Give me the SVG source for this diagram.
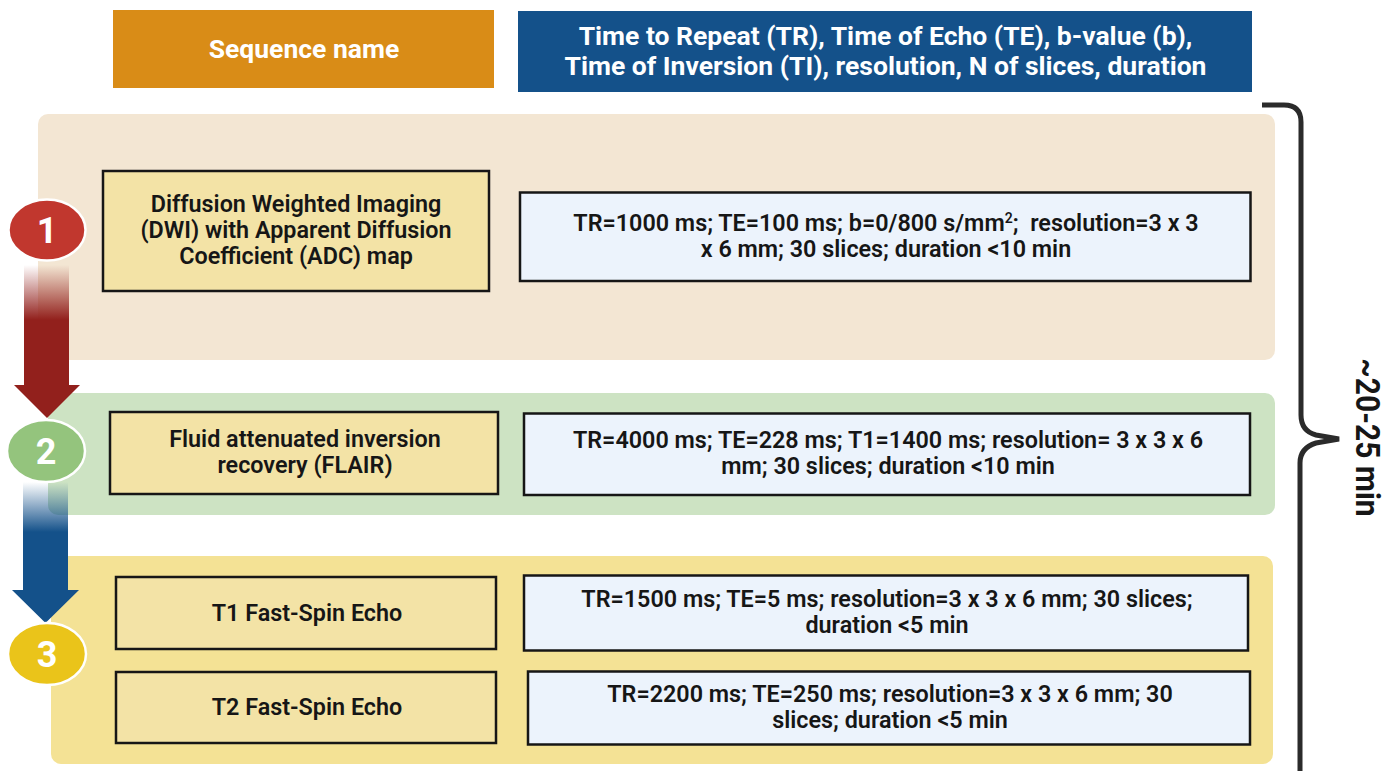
<svg xmlns="http://www.w3.org/2000/svg" width="1390" height="771" viewBox="0 0 1390 771">
<style>
text{font-family:Roboto,"Liberation Sans",sans-serif;font-weight:700;text-anchor:middle}
.t{font-size:23.350px;fill:#161616;font-weight:600}
.h{font-size:26.500px;fill:#fff;font-weight:700}
.n{fill:#f3e3a6;stroke:#161616;stroke-width:2.500}
.p{fill:#ecf3fc;stroke:#161616;stroke-width:2.500}
.c{stroke:#fff;stroke-width:2.500}
.num{font-size:36px;fill:#fff;font-weight:700}
</style>
<defs>
<linearGradient id="gr" gradientUnits="userSpaceOnUse" x1="0" y1="265" x2="0" y2="320"><stop offset="0" stop-color="#92201c" stop-opacity="0"/><stop offset="1" stop-color="#92201c"/></linearGradient>
<linearGradient id="gb" gradientUnits="userSpaceOnUse" x1="0" y1="482" x2="0" y2="532"><stop offset="0" stop-color="#14518a" stop-opacity="0"/><stop offset="1" stop-color="#14518a"/></linearGradient>
</defs>
<rect width="1390" height="771" fill="#fff"/>
<g id="band-1"><rect x="38" y="114" width="1237" height="246" rx="10" fill="#f3e6d3"/></g>
<g id="band-2"><rect x="48" y="393" width="1227" height="122" rx="10" fill="#cde3c3"/></g>
<g id="band-3"><rect x="51" y="556" width="1222" height="208" rx="10" fill="#f4e295"/></g>
<g id="header-name"><rect x="113" y="10" width="381" height="78" fill="#d98c17"/><text class="h" x="304" y="57.500">Sequence name</text></g>
<g id="header-params"><rect x="518" y="11" width="734" height="81" fill="#14518a"/><text class="h" x="885.500" y="45">Time to Repeat (TR), Time of Echo (TE), b-value (b),</text><text class="h" x="885.500" y="74.500">Time of Inversion (TI), resolution, N of slices, duration</text></g>
<g id="connectors">
<path d="M24 265H69V385H80L47 418L14 385H24Z" fill="url(#gr)"/>
<path d="M23 482H68V590H79L45.500 623L12 590H23Z" fill="url(#gb)"/>
<path d="M1262 105H1284Q1301 105 1301 122V415Q1301 431 1316 435L1339 439L1316 443Q1300 448 1300 463V771" fill="none" stroke="#2b2b2b" stroke-width="5"/>
</g>
<g id="step-1"><ellipse class="c" cx="47" cy="230" rx="38.500" ry="30.500" fill="#c1372e"/><text class="num" x="47" y="243">1</text></g>
<g id="step-2"><ellipse class="c" cx="46" cy="451" rx="39" ry="31" fill="#94c47d"/><text class="num" x="46" y="464">2</text></g>
<g id="step-3"><ellipse class="c" cx="47" cy="654" rx="39" ry="31" fill="#eac41a"/><text class="num" x="47" y="667">3</text></g>
<g id="dwi"><rect class="n" x="103" y="171" width="386" height="120"/><text class="t" x="296" y="212">Diffusion Weighted Imaging</text><text class="t" x="296" y="238">(DWI) with Apparent Diffusion</text><text class="t" x="296" y="264">Coefficient (ADC) map</text></g>
<g id="dwi-params"><rect class="p" x="520" y="192.500" width="730.500" height="88.500"/><text class="t" x="886" y="231">TR=1000 ms; TE=100 ms; b=0/800 s/mm<tspan font-size="14" dy="-8">2</tspan><tspan dy="8" xml:space="preserve">;  resolution=3 x 3</tspan></text><text class="t" x="886" y="257">x 6 mm; 30 slices; duration &lt;10 min</text></g>
<g id="flair"><rect class="n" x="110" y="412" width="388" height="82"/><text class="t" x="305" y="447">Fluid attenuated inversion</text><text class="t" x="305" y="473">recovery (FLAIR)</text></g>
<g id="flair-params"><rect class="p" x="524" y="413.500" width="726" height="81.500"/><text class="t" x="888" y="448">TR=4000 ms; TE=228 ms; T1=1400 ms; resolution= 3 x 3 x 6</text><text class="t" x="888" y="474">mm; 30 slices; duration &lt;10 min</text></g>
<g id="t1"><rect class="n" x="116" y="577" width="380" height="72"/><text class="t" x="307" y="621">T1 Fast-Spin Echo</text></g>
<g id="t1-params"><rect class="p" x="524" y="575.500" width="724" height="75"/><text class="t" x="887" y="607">TR=1500 ms; TE=5 ms; resolution=3 x 3 x 6 mm; 30 slices;</text><text class="t" x="887" y="633">duration &lt;5 min</text></g>
<g id="t2"><rect class="n" x="116" y="672" width="380" height="71"/><text class="t" x="307" y="715">T2 Fast-Spin Echo</text></g>
<g id="t2-params"><rect class="p" x="528" y="671.500" width="722" height="73"/><text class="t" x="890" y="702">TR=2200 ms; TE=250 ms; resolution=3 x 3 x 6 mm; 30</text><text class="t" x="890" y="728">slices; duration &lt;5 min</text></g>
<g id="total"><text transform="translate(1355.500 437.500) rotate(90) scale(1 1.08)" font-size="30" fill="#161616">~20-25 min</text></g>
</svg>
